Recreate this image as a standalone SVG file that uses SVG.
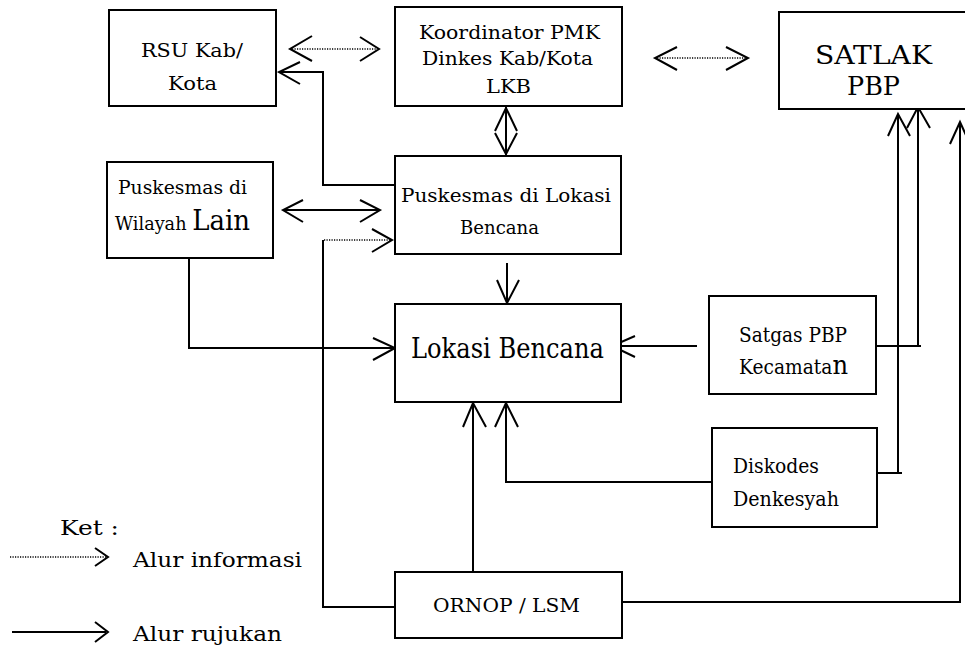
<svg xmlns="http://www.w3.org/2000/svg" width="965" height="646" viewBox="0 0 965 646">
<style>
.box{fill:#fff;stroke:#000;stroke-width:2}
.ln{fill:none;stroke:#000;stroke-width:2}
.dot{fill:none;stroke:#000;stroke-width:1.5;stroke-dasharray:1.2 1.3}
.hd{fill:none;stroke:#000;stroke-width:2}
text{font-family:"DejaVu Serif",serif;fill:#000}
</style>
<rect width="965" height="646" fill="#fff"/>
<g id="connectors">
<line class="dot" x1="292" y1="49" x2="377" y2="49"/>
<polyline class="hd" points="312,36 290,49 312,61"/>
<polyline class="hd" points="360,37 379,49 360,61"/>
<line class="dot" x1="657" y1="58" x2="746" y2="58"/>
<polyline class="hd" points="677,47 655,58 677,70"/>
<polyline class="hd" points="726,47 748,58 726,70"/>
<line class="ln" x1="506" y1="106" x2="506" y2="156"/>
<polyline class="hd" points="495,131 506,108 517,131"/>
<polyline class="hd" points="495,133 506,154 517,133"/>
<polyline class="ln" points="395,185 323,185 323,72 279,72"/>
<polyline class="hd" points="300,62 279,72 300,84"/>
<line class="ln" x1="283" y1="210" x2="380" y2="210"/>
<polyline class="hd" points="303,200 283,210 303,222"/>
<polyline class="hd" points="360,200 380,210 360,222"/>
<line class="dot" x1="324" y1="240" x2="390" y2="240"/>
<polyline class="hd" points="372,229 392,240 372,252"/>
<polyline class="ln" points="323,240 323,607 395,607"/>
<line class="ln" x1="507" y1="263" x2="507" y2="303"/>
<polyline class="hd" points="497,280 507,303 519,280"/>
<polyline class="ln" points="189,258 189,348 395,348"/>
<polyline class="hd" points="373,338 395,348 373,360"/>
<line class="ln" x1="612" y1="346" x2="697" y2="346"/>
<polyline class="hd" points="635,336 612,346 635,357"/>
<line class="ln" x1="473" y1="572" x2="473" y2="403"/>
<polyline class="hd" points="463,427 473,403 486,427"/>
<polyline class="ln" points="712,482 506,482 506,403"/>
<polyline class="hd" points="495,427 506,403 518,427"/>
<line class="ln" x1="876" y1="346" x2="921" y2="346"/>
<line class="ln" x1="918" y1="346" x2="918" y2="108"/>
<polyline class="hd" points="907,128 918,107 930,128"/>
<line class="ln" x1="877" y1="473" x2="902" y2="473"/>
<line class="ln" x1="898" y1="473" x2="898" y2="114"/>
<polyline class="hd" points="888,136 898,114 910,136"/>
<polyline class="ln" points="622,602 960,602 960,122"/>
<polyline class="hd" points="950,144 960,122 970,144"/>
</g>
<g id="rsu">
<rect class="box" x="109" y="10" width="167" height="96"/>
<text x="141" y="57" font-size="19" textLength="102" lengthAdjust="spacingAndGlyphs">RSU Kab/</text>
<text x="168" y="90" font-size="19" textLength="49" lengthAdjust="spacingAndGlyphs">Kota</text>
</g>
<g id="koordinator">
<rect class="box" x="395" y="7" width="227" height="99"/>
<text x="419" y="39" font-size="19" textLength="181" lengthAdjust="spacingAndGlyphs">Koordinator PMK</text>
<text x="422" y="65" font-size="19" textLength="171" lengthAdjust="spacingAndGlyphs">Dinkes Kab/Kota</text>
<text x="486" y="93" font-size="19" textLength="45" lengthAdjust="spacingAndGlyphs">LKB</text>
</g>
<g id="satlak">
<rect class="box" x="779" y="12" width="200" height="97"/>
<text x="815" y="64" font-size="26" textLength="117" lengthAdjust="spacingAndGlyphs">SATLAK</text>
<text x="847" y="95" font-size="26" textLength="53" lengthAdjust="spacingAndGlyphs">PBP</text>
</g>
<g id="puskesmas-wilayah-lain">
<rect class="box" x="107" y="162" width="166" height="96"/>
<text x="118" y="194" font-size="19" textLength="129" lengthAdjust="spacingAndGlyphs">Puskesmas di</text>
<text x="115" y="230" font-size="19" textLength="135" lengthAdjust="spacingAndGlyphs">Wilayah <tspan font-size="28">Lain</tspan></text>
</g>
<g id="puskesmas-lokasi">
<rect class="box" x="395" y="156" width="226" height="98"/>
<text x="401" y="202" font-size="19" textLength="210" lengthAdjust="spacingAndGlyphs">Puskesmas di Lokasi</text>
<text x="460" y="234" font-size="19" textLength="79" lengthAdjust="spacingAndGlyphs">Bencana</text>
</g>
<g id="lokasi-bencana">
<rect class="box" x="395" y="304" width="226" height="98"/>
<text x="411" y="358" font-size="27" textLength="193" lengthAdjust="spacingAndGlyphs">Lokasi Bencana</text>
</g>
<g id="satgas">
<rect class="box" x="709" y="296" width="167" height="98"/>
<text x="739" y="342" font-size="20" textLength="108" lengthAdjust="spacingAndGlyphs">Satgas PBP</text>
<text x="739" y="374" font-size="20" textLength="109" lengthAdjust="spacingAndGlyphs">Kecamata<tspan font-size="26">n</tspan></text>
</g>
<g id="diskodes">
<rect class="box" x="712" y="428" width="165" height="99"/>
<text x="733" y="473" font-size="20" textLength="86" lengthAdjust="spacingAndGlyphs">Diskodes</text>
<text x="733" y="506" font-size="20" textLength="106" lengthAdjust="spacingAndGlyphs">Denkesyah</text>
</g>
<g id="ornop">
<rect class="box" x="395" y="572" width="227" height="66"/>
<text x="433" y="612" font-size="19" textLength="147" lengthAdjust="spacingAndGlyphs">ORNOP / LSM</text>
</g>
<g id="legend">
<text x="60" y="535" font-size="20" textLength="59" lengthAdjust="spacingAndGlyphs">Ket :</text>
<line class="dot" x1="10" y1="557" x2="106" y2="557"/>
<polyline class="hd" points="95,548 108,557 95,566"/>
<text x="133" y="567" font-size="21" textLength="169" lengthAdjust="spacingAndGlyphs">Alur informasi</text>
<line class="ln" x1="12" y1="632" x2="106" y2="632"/>
<polyline class="hd" points="95,622 108,632 95,642"/>
<text x="133" y="641" font-size="21" textLength="149" lengthAdjust="spacingAndGlyphs">Alur rujukan</text>
</g>
</svg>
